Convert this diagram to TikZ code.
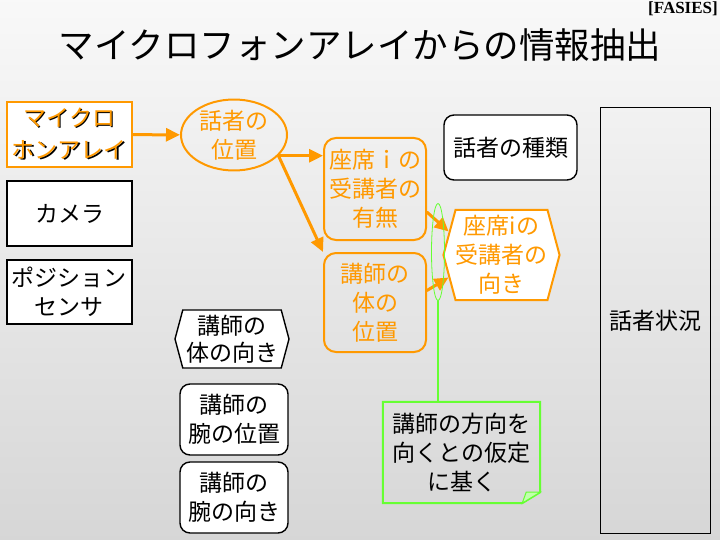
\documentclass[tikz,border=0pt]{standalone}
\usepackage{fontspec}
\setmainfont{Noto Sans CJK JP}
\newfontfamily\romanfont{Liberation Serif}
\usetikzlibrary{arrows.meta,shapes.geometric,shapes.symbols}

\definecolor{daidai}{RGB}{255,153,0}
\definecolor{midori}{RGB}{102,255,51}
\newcommand{\jfont}{\fontsize{23}{29}\selectfont}
% 影付き文字
\newcommand{\kage}[1]{\makebox[0pt][l]{\hspace{1.2pt}\raisebox{-1.2pt}{\color{black}#1}}#1}

\begin{document}
\begin{tikzpicture}[x=1pt,y=-1pt,line cap=round,
		>={Triangle[length=14pt,width=13pt]},
		waku/.style={draw=black,line width=1.4pt,fill=white,align=center,inner sep=0pt,font=\jfont},
		maru/.style={waku,rounded corners=10pt},
		daiwaku/.style={draw=daidai,line width=2pt,text=daidai,align=center,inner sep=0pt,font=\jfont},
		rokkaku/.style={signal,signal to=west and east,signal pointer angle=150},
		yaji/.style={->,daidai,line width=3pt}]
		
		% ===== 背景 =====
		\useasboundingbox (0,0) rectangle (720,540);
		\fill[top color=gray!5,bottom color=gray!32] (0,0) rectangle (720,540);
		
		% ---- タイトル ----
		\node[font=\fontsize{35.5}{40}\selectfont,inner sep=0pt] (title) at (360,45) {マイクロフォンアレイからの情報抽出};
		\node[font=\romanfont\bfseries\fontsize{17}{18}\selectfont,anchor=north east,inner sep=0pt] (fasies) at (718,2) {[FASIES]};
		
		% ---- 入力（左列）----
		\node[daiwaku,fill=white,minimum width=125,minimum height=65,font=\fontsize{23}{32}\selectfont] (mic) at (69.5,134.5)
		{\kage{マイクロ}\\\kage{ホンアレイ}};
		\node[waku,minimum width=125,minimum height=65] (cam) at (69.5,213.5) {カメラ};
		\node[waku,minimum width=125,minimum height=64] (psn) at (69.5,292) {ポジション\\センサ};
		
		% ---- 話者の位置 ----
		\node[daiwaku,ellipse,minimum width=106,minimum height=66] (pos) at (234,135) {話者の\\位置};
		
		% ---- 中間情報（橙）----
		\node[daiwaku,rounded corners=12pt,minimum width=102,minimum height=102] (uke) at (375,189)
		{座席ｉの\\受講者の\\有無};
		\node[daiwaku,rounded corners=12pt,minimum width=102,minimum height=99] (kou) at (375,302.5)
		{講師の\\体の\\位置};
		\node[daiwaku,rokkaku,fill=white,minimum width=113,minimum height=90] (muki) at (501.5,255)
		{座席iの\\受講者の\\向き};
		
		% ---- その他の情報（黒）----
		\node[maru,minimum width=133,minimum height=65] (shurui) at (510.5,147.5) {話者の種類};
		\node[waku,fill=none,line width=1pt,minimum width=110,minimum height=425] (jokyo) at (655,320.5) {話者状況};
		\node[waku,rokkaku,minimum width=114,minimum height=58,font=\fontsize{23}{27}\selectfont] (karada) at (232,339)
		{講師の\\体の向き};
		\node[maru,minimum width=108,minimum height=71] (ude1) at (234,419.5) {講師の\\腕の位置};
		\node[maru,minimum width=108,minimum height=71] (ude2) at (234,497.5) {講師の\\腕の向き};
		
		% ---- 矢印 ----
		\draw[yaji] (mic) -- (pos);
		\draw[yaji] (pos.-25) -- (pos.-25 -| uke.west);
		\draw[yaji] (pos.-25) -- (kou.north west);
		\draw[yaji] (uke.-24) -- (muki.156);
		\draw[yaji] (kou.13) -- (muki.-157);
		
		% ---- 仮定の注記（緑）----
		\node[draw=midori,ellipse,line width=0.8pt,minimum width=13,minimum height=97,inner sep=0pt] (grp) at (438,252) {};
		\node[align=center,inner sep=0pt,minimum width=157,minimum height=101,font=\jfont] (note) at (461.5,452.5)
		{講師の方向を\\向くとの仮定\\に基く};
		\draw[midori,line width=2pt] (grp.south) -- (grp.south |- note.north);
		\draw[midori,line width=2pt,line join=miter]
		(note.north west) -- (note.north east) -- ([yshift=11pt]note.south east)
		-- ([xshift=-18pt]note.south east) -- (note.south west) -- cycle;
		\draw[midori,line width=1pt,fill=midori!40]
		([xshift=-18pt]note.south east) -- ([xshift=-14pt,yshift=11pt]note.south east)
		-- ([yshift=11pt]note.south east) -- cycle;
		
	\end{tikzpicture}
\end{document}
